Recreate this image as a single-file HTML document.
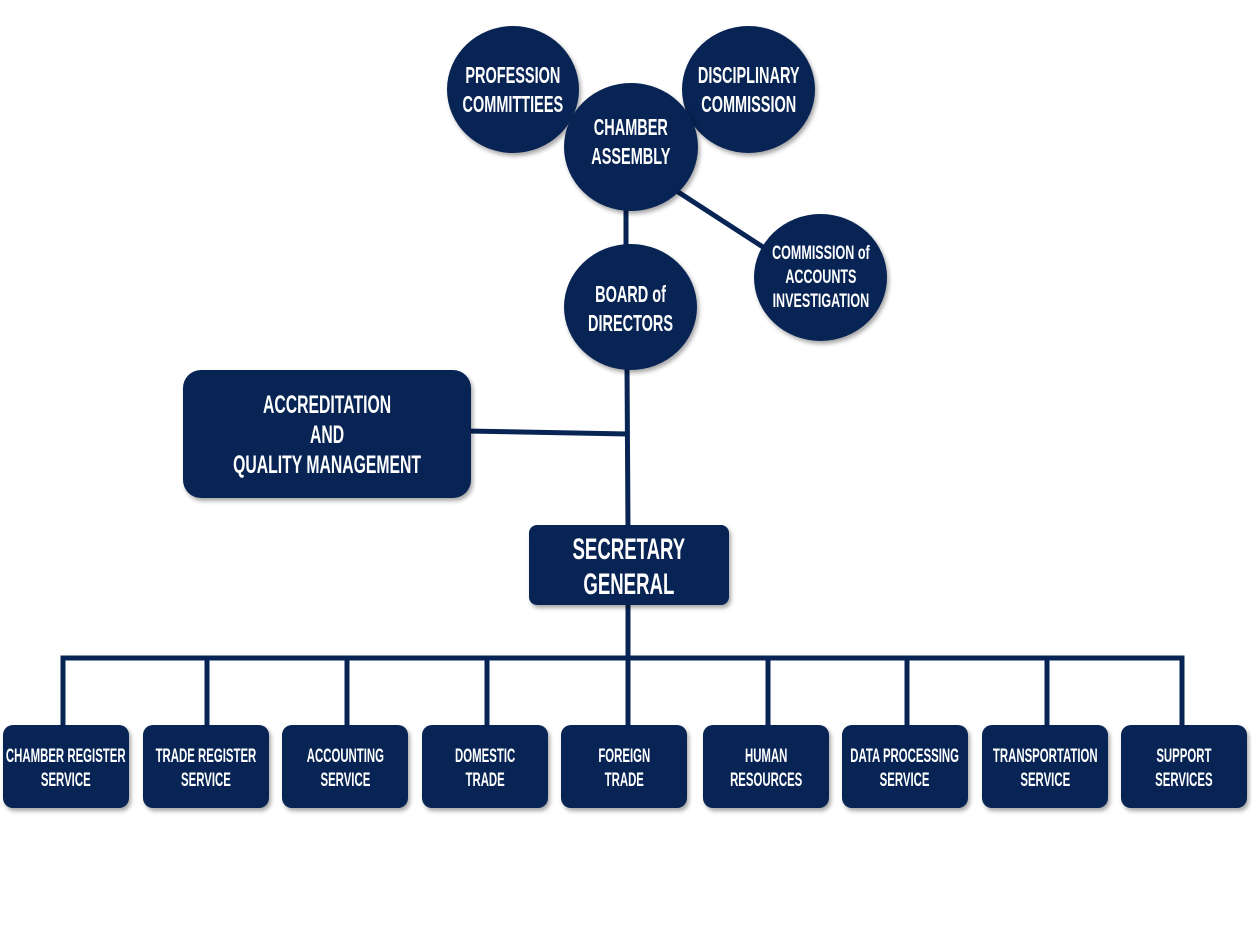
<!DOCTYPE html>
<html><head><meta charset="utf-8"><style>
body{margin:0;width:1252px;height:945px;background:#fff;position:relative;overflow:hidden;font-family:"Liberation Sans Narrow","Liberation Sans",sans-serif;font-weight:bold;color:#fff}
.n{position:absolute;background:#072454;display:flex;align-items:center;justify-content:center;text-align:center;box-shadow:2px 3px 4px rgba(0,0,0,.35)}
.c{border-radius:50%}
.n span{display:inline-block;transform:scaleX(.63);white-space:nowrap}
.c span{font-size:23px;line-height:29px}
.b{border-radius:10px;top:725px;width:126px;height:83px}
.b span{font-size:19px;line-height:24px;transform:scaleX(.6);margin-top:5px}
svg{position:absolute;left:0;top:0}
</style></head><body>
<svg width="1252" height="945">
<g stroke="#072454" stroke-width="5" fill="none">
<line x1="626" y1="205" x2="626" y2="250"/>
<line x1="672" y1="188" x2="766" y2="249"/>
<line x1="627" y1="365" x2="628" y2="530"/>
<line x1="465" y1="431" x2="628" y2="434"/>
<line x1="628" y1="600" x2="628" y2="660"/>
<polyline points="63,728 63,658 1182,658 1182,728"/>
<line x1="207" y1="658" x2="207" y2="728"/>
<line x1="347" y1="658" x2="347" y2="728"/>
<line x1="487" y1="658" x2="487" y2="728"/>
<line x1="628" y1="658" x2="628" y2="728"/>
<line x1="768" y1="658" x2="768" y2="728"/>
<line x1="907" y1="658" x2="907" y2="728"/>
<line x1="1047" y1="658" x2="1047" y2="728"/>
</g></svg>
<div class="n c" style="left:447px;top:26px;width:132px;height:127px"><span>PROFESSION<br>COMMITTIEES</span></div>
<div class="n c" style="left:682px;top:26px;width:133px;height:127px"><span>DISCIPLINARY<br>COMMISSION</span></div>
<div class="n c" style="left:564px;top:83px;width:134px;height:128px;align-items:flex-start"><span style="margin-top:30px">CHAMBER<br>ASSEMBLY</span></div>
<div class="n c" style="left:564px;top:244px;width:133px;height:126px"><span style="margin-top:4px">BOARD of<br>DIRECTORS</span></div>
<div class="n c" style="left:754px;top:214px;width:133px;height:127px"><span style="font-size:19px;line-height:24px;transform:scaleX(.66)">COMMISSION of<br>ACCOUNTS<br>INVESTIGATION</span></div>
<div class="n" style="left:183px;top:370px;width:288px;height:128px;border-radius:18px"><span style="font-size:25px;line-height:30px;margin-top:2px">ACCREDITATION<br>AND<br>QUALITY MANAGEMENT</span></div>
<div class="n" style="left:529px;top:525px;width:200px;height:80px;border-radius:8px"><span style="font-size:30px;line-height:35px;transform:scaleX(.62);margin-top:4px">SECRETARY<br>GENERAL</span></div>
<div class="n b" style="left:3px"><span>CHAMBER REGISTER<br>SERVICE</span></div>
<div class="n b" style="left:143px"><span>TRADE REGISTER<br>SERVICE</span></div>
<div class="n b" style="left:282px"><span>ACCOUNTING<br>SERVICE</span></div>
<div class="n b" style="left:422px"><span>DOMESTIC<br>TRADE</span></div>
<div class="n b" style="left:561px"><span>FOREIGN<br>TRADE</span></div>
<div class="n b" style="left:703px"><span>HUMAN<br>RESOURCES</span></div>
<div class="n b" style="left:842px"><span>DATA PROCESSING<br>SERVICE</span></div>
<div class="n b" style="left:982px"><span>TRANSPORTATION<br>SERVICE</span></div>
<div class="n b" style="left:1121px"><span>SUPPORT<br>SERVICES</span></div>
</body></html>
